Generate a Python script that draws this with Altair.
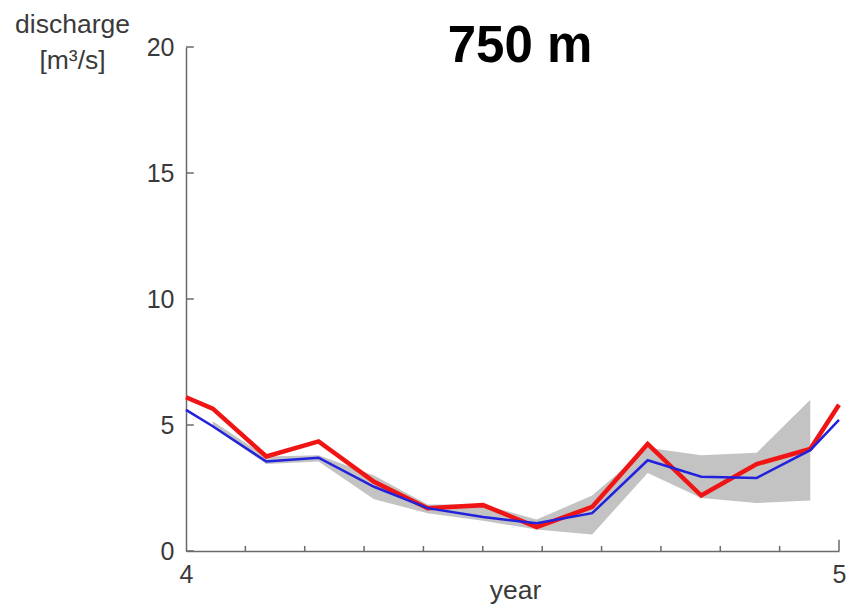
import altair as alt
import pandas as pd

# ---- data ----
x_pos = [4.0, 4.041, 4.123, 4.203, 4.288, 4.370, 4.455, 4.537, 4.622, 4.707, 4.789, 4.874, 4.956, 5.0]
observed = [6.1, 5.65, 3.75, 4.35, 2.75, 1.7, 1.82, 0.95, 1.75, 4.25, 2.2, 3.45, 4.05, 5.8]
simulated = [5.6, 4.95, 3.55, 3.7, 2.55, 1.7, 1.35, 1.1, 1.5, 3.6, 2.95, 2.9, 4.0, 5.2]

band_x = [4.041, 4.123, 4.203, 4.288, 4.370, 4.455, 4.537, 4.622, 4.707, 4.789, 4.874, 4.956]
band_lo = [4.9, 3.45, 3.55, 2.05, 1.5, 1.2, 0.85, 0.65, 3.1, 2.1, 1.9, 2.0]
band_hi = [5.15, 3.75, 3.8, 3.0, 1.85, 1.85, 1.25, 2.2, 4.1, 3.8, 3.9, 6.0]

y_ticks = [0, 5, 10, 15, 20]
x_labels = [4, 5]
x_minor = [4.0909, 4.1818, 4.2727, 4.3636, 4.4545, 4.5455, 4.6364, 4.7273, 4.8182, 4.9091]
x_major_end = [5]

title_text = "750 m"
y_title = ["discharge", "[m³/s]"]
x_title = "year"

FONT = "Liberation Sans"
TXT = "#3a3a3a"
AX = "#6a6a6a"

lines_df = pd.DataFrame({"x": x_pos, "obs": observed, "sim": simulated})
band_df = pd.DataFrame({"x": band_x, "lo": band_lo, "hi": band_hi})
yt_df = pd.DataFrame({"y": y_ticks, "x0": [4.0] * len(y_ticks), "x1": [4.012] * len(y_ticks)})
xm_df = pd.DataFrame({"x": x_minor, "y0": [0.0] * len(x_minor), "y1": [0.2] * len(x_minor)})
xM_df = pd.DataFrame({"x": x_major_end, "y0": [0.0], "y1": [0.45]})
t_df = pd.DataFrame({"t": [title_text]})

xscale = alt.Scale(domain=[4, 5], nice=False, zero=False)
yscale = alt.Scale(domain=[0, 20], nice=False)

xaxis = alt.Axis(values=x_labels, format="d", tickSize=0, labelPadding=11,
                 labelFontSize=25, labelFont=FONT, labelColor=TXT,
                 domainColor=AX, domainWidth=1.5, grid=False,
                 title=x_title, titleFont=FONT, titleFontSize=26.5, titleFontWeight="normal",
                 titleColor=TXT, titleBaseline="alphabetic", titleY=47, titleX=329,
                 titleAlign="center", labelFlush=False)
yaxis = alt.Axis(values=y_ticks, tickSize=0, labelPadding=12,
                 labelFontSize=25, labelFont=FONT, labelColor=TXT,
                 domainColor=AX, domainWidth=1.5, grid=False,
                 title=y_title, titleFont=FONT, titleFontSize=26.5, titleFontWeight="normal",
                 titleColor=TXT, titleAngle=0, titleAlign="center", titleBaseline="alphabetic",
                 titleX=-114, titleY=-15, titleLineHeight=36)


def X(field):
    return alt.X(field, type="quantitative", scale=xscale, axis=xaxis, title=x_title)


def Y(field):
    return alt.Y(field, type="quantitative", scale=yscale, axis=yaxis, title=y_title)


band = alt.Chart(band_df).mark_area(color="#c3c3c3", opacity=1).encode(
    x=X("x"), y=Y("lo"), y2=alt.Y2("hi")
)
red = alt.Chart(lines_df).mark_line(color="#f01414", strokeWidth=4.5).encode(
    x=X("x"), y=Y("obs")
)
blue = alt.Chart(lines_df).mark_line(color="#2222dd", strokeWidth=2.5).encode(
    x=X("x"), y=Y("sim")
)
ytick = alt.Chart(yt_df).mark_rule(color=AX, strokeWidth=1.5).encode(
    x=X("x0"), x2=alt.X2("x1"), y=Y("y")
)
xminor = alt.Chart(xm_df).mark_rule(color=AX, strokeWidth=1.5).encode(
    x=X("x"), y=Y("y0"), y2=alt.Y2("y1")
)
xmajor = alt.Chart(xM_df).mark_rule(color=AX, strokeWidth=1.5).encode(
    x=X("x"), y=Y("y0"), y2=alt.Y2("y1")
)
title = alt.Chart(t_df).mark_text(
    font=FONT, fontSize=51, fontWeight="bold", color="#000000",
    align="center", baseline="alphabetic"
).encode(text="t:N", x=alt.value(334), y=alt.value(15))

chart = alt.layer(band, red, blue, ytick, xminor, xmajor, title).properties(
    width=653, height=504,
    autosize=alt.AutoSizeParams(type="none"),
    padding={"left": 178, "top": 39, "right": 7, "bottom": 53},
).configure_view(stroke=None)

chart.save("out.html", embed_options={"renderer": "svg", "actions": False})
